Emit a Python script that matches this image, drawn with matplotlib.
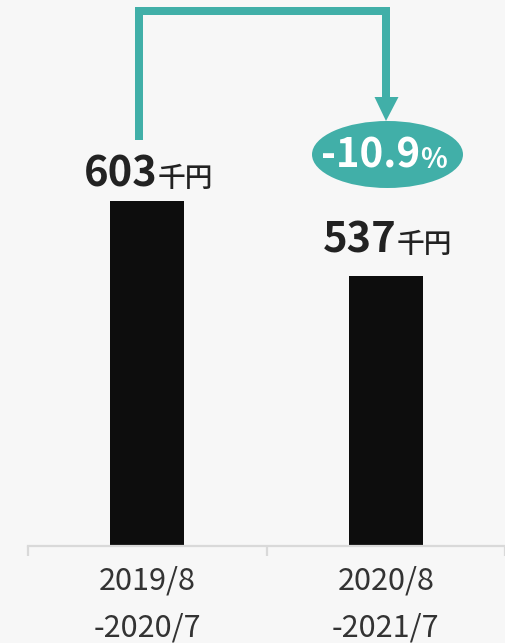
import matplotlib
matplotlib.use("Agg")
import matplotlib.pyplot as plt
from matplotlib.lines import Line2D
from matplotlib.patches import Polygon, Ellipse

plt.rcParams['font.family'] = ['Noto Sans CJK JP', 'DejaVu Sans']

# data
periods = ['2019/8\n-2020/7', '2020/8\n-2021/7']
values = [603, 537]
unit = '千円'
change_label = '-10.9'

W, H = 505, 643
bg = '#f7f7f7'
teal = '#41afa8'
gray = '#d9d9d9'

fig = plt.figure(figsize=(W / 100, H / 100), dpi=100, facecolor=bg)
ax = fig.add_axes([28 / W, (H - 546) / H, 477 / W, 546 / H], facecolor=bg)

x = list(range(len(values)))
ax.bar(x, values, width=0.31, color='#0d0d0d', zorder=2)
ax.set_xlim(-0.5, 1.5)
ax.set_ylim(299, 780)

for s in ['top', 'right', 'left']:
    ax.spines[s].set_visible(False)
ax.spines['bottom'].set_color(gray)
ax.spines['bottom'].set_linewidth(1.6)
ax.set_yticks([])
ax.set_xticks(x)
ax.set_xticklabels(periods, fontsize=22, color='#333333', linespacing=1.68)
ax.tick_params(axis='x', which='major', length=0, pad=14)
ax.set_xticks([-0.5, 0.5, 1.5], minor=True)
ax.tick_params(axis='x', which='minor', length=7, width=1.6, color=gray)

# value labels: bold number + smaller unit
label_offsets = [14, 23]
for xi, v, off in zip(x, values, label_offsets):
    ax.annotate(str(v), (xi, v), xytext=(7.5, off * 0.72), textcoords='offset points',
                ha='right', va='baseline', fontsize=30, fontweight='bold', color='#222222')
    ax.annotate(unit, (xi, v), xytext=(7.5, off * 0.72), textcoords='offset points',
                ha='left', va='baseline', fontsize=20, fontweight='medium', color='#222222')


# connector arrow (pixel coords from top-left)
def fx(px):
    return px / W


def fy(py):
    return 1 - py / H


lw = 8 * 0.72
fig.add_artist(Line2D([fx(138.5), fx(138.5), fx(386), fx(386)],
                      [fy(140), fy(11), fy(11), fy(100)],
                      color=teal, lw=lw, solid_joinstyle='miter', solid_capstyle='butt'))
fig.add_artist(Polygon([[fx(374.5), fy(97)], [fx(398.5), fy(97)], [fx(386), fy(121)]],
                       closed=True, color=teal, lw=0))
fig.add_artist(Ellipse((fx(387.5), fy(154.5)), 151 / W, 67 / H, color=teal, lw=0))
fig.text(fx(420), fy(168), change_label, ha='right', va='baseline',
         fontsize=29, fontweight='bold', color='white')
fig.text(fx(420), fy(168), '%', ha='left', va='baseline',
         fontsize=20, fontweight='bold', color='white')

fig.savefig('out.png', dpi=100, facecolor=bg)
